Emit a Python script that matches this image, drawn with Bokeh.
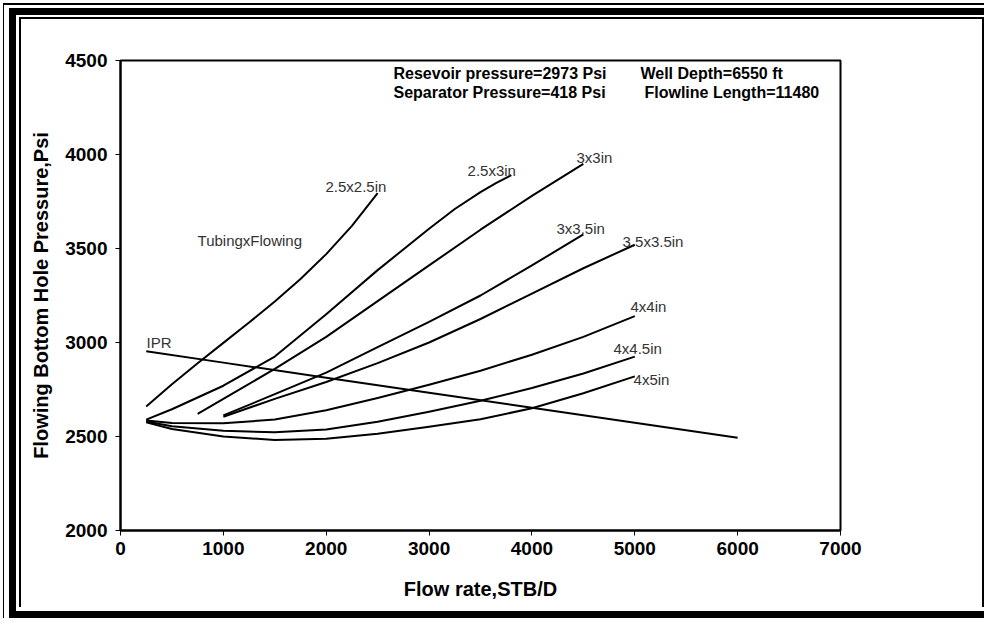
from bokeh.plotting import figure
from bokeh.models import Label, FixedTicker, Range1d
from bokeh.embed import file_html
from bokeh.resources import INLINE

# ---- data ----
ipr_q = [250, 1000, 2000, 3000, 4000, 5000, 6000]
ipr_p = [2953, 2893, 2813, 2733, 2653, 2573, 2493]

c25x25_q = [250, 500, 750, 1000, 1250, 1500, 1750, 2000, 2250, 2500]
c25x25_p = [2660, 2778, 2890, 2998, 3106, 3218, 3338, 3470, 3620, 3795]

c25x3_q = [250, 500, 1000, 1500, 2000, 2500, 3000, 3250, 3500, 3650, 3800]
c25x3_p = [2590, 2645, 2770, 2925, 3150, 3385, 3605, 3710, 3800, 3848, 3890]

c3x3_q = [750, 1000, 1500, 2000, 2500, 3000, 3500, 4000, 4500]
c3x3_p = [2620, 2700, 2860, 3030, 3220, 3410, 3600, 3780, 3950]

c3x35_q = [1000, 1500, 2000, 2500, 3000, 3500, 4000, 4500]
c3x35_p = [2612, 2725, 2840, 2975, 3110, 3250, 3410, 3575]

c35x35_q = [1000, 1500, 2000, 2500, 3000, 3500, 4000, 4500, 5000]
c35x35_p = [2605, 2700, 2790, 2890, 3000, 3125, 3260, 3395, 3520]

c4x4_q = [250, 500, 1000, 1500, 2000, 2500, 3000, 3500, 4000, 4500, 5000]
c4x4_p = [2585, 2572, 2570, 2590, 2640, 2705, 2775, 2850, 2935, 3030, 3140]

c4x45_q = [250, 500, 1000, 1500, 2000, 2500, 3000, 3500, 4000, 4500, 5000]
c4x45_p = [2580, 2555, 2530, 2522, 2537, 2578, 2632, 2690, 2758, 2835, 2925]

c4x5_q = [250, 500, 1000, 1500, 2000, 2500, 3000, 3500, 4000, 4500, 5000]
c4x5_p = [2575, 2540, 2500, 2482, 2488, 2515, 2552, 2592, 2650, 2730, 2820]

curve_labels = ["2.5x2.5in", "2.5x3in", "3x3in", "3x3.5in", "3.5x3.5in", "4x4in", "4x4.5in", "4x5in"]
label_x = [1993, 3374, 4433, 4239, 4881, 4958, 4793, 4988]
label_y = [3830, 3915, 3984, 3606, 3537, 3191, 2968, 2803]

x_ticks = [0, 1000, 2000, 3000, 4000, 5000, 6000, 7000]
y_ticks = [2000, 2500, 3000, 3500, 4000, 4500]

header_left = ["Resevoir pressure=2973 Psi", "Separator Pressure=418 Psi"]
header_right = ["Well Depth=6550 ft", "Flowline Length=11480"]

x_title = "Flow rate,STB/D"
y_title = "Flowing Bottom Hole Pressure,Psi"

# ---- figure ----
W, H = 984, 618
FL, FT, FW, FH = 120, 60, 720, 470
p = figure(width=W, height=H, output_backend="svg", toolbar_location=None,
           x_range=Range1d(0, 7000), y_range=Range1d(2000, 4500),
           frame_width=FW, frame_height=FH,
           min_border_left=FL, min_border_right=W - FL - FW,
           min_border_top=FT, min_border_bottom=H - FT - FH)
p.background_fill_color = "white"
p.border_fill_color = None
p.outline_line_color = "black"
p.outline_line_width = 2
p.grid.visible = False

font = "Liberation Sans"
for ax in (p.xaxis[0], p.yaxis[0]):
    ax.axis_line_color = "black"
    ax.axis_line_width = 2
    ax.major_tick_line_color = "black"
    ax.major_tick_line_width = 1
    ax.major_tick_out = 5
    ax.major_tick_in = 0
    ax.minor_tick_line_color = None
    ax.major_label_text_font = font
    ax.major_label_text_font_style = "bold"
    ax.major_label_text_font_size = "19px"
    ax.major_label_text_color = "black"
    ax.axis_label_text_font = font
    ax.axis_label_text_font_style = "bold"
    ax.axis_label_text_color = "black"

p.yaxis.major_label_standoff = 8
p.xaxis.major_label_standoff = 6
p.xaxis.ticker = FixedTicker(ticks=x_ticks)
p.yaxis.ticker = FixedTicker(ticks=y_ticks)
p.xaxis.axis_label = x_title
p.xaxis.axis_label_text_font_size = "20px"
p.xaxis.axis_label_standoff = 20
p.yaxis.axis_label = y_title
p.yaxis.axis_label_text_font_size = "20px"
p.yaxis.axis_label_standoff = 10

curves = [(c25x25_q, c25x25_p), (c25x3_q, c25x3_p), (c3x3_q, c3x3_p), (c3x35_q, c3x35_p),
          (c35x35_q, c35x35_p), (c4x4_q, c4x4_p), (c4x45_q, c4x45_p), (c4x5_q, c4x5_p)]
for q, pr in curves:
    p.line(q, pr, line_color="black", line_width=2, line_join="round")
p.line(ipr_q, ipr_p, line_color="black", line_width=2)

for t, x, y in zip(curve_labels, label_x, label_y):
    p.add_layout(Label(x=x, y=y, text=t, text_font=font, text_font_size="15px",
                       text_color="#333333", text_baseline="middle", text_align="left"))
p.add_layout(Label(x=749, y=3543, text="TubingxFlowing", text_font=font, text_font_size="15px",
                   text_color="#333333", text_baseline="middle"))
p.add_layout(Label(x=253, y=3000, text="IPR", text_font=font, text_font_size="15px",
                   text_color="#333333", text_baseline="middle"))

for t, y in zip(header_left, [4431, 4330]):
    p.add_layout(Label(x=2654, y=y, text=t, text_font=font, text_font_size="16px",
                       text_font_style="bold", text_color="black", text_baseline="middle"))
for t, x, y in zip(header_right, [5055, 5094], [4431, 4330]):
    p.add_layout(Label(x=x, y=y, text=t, text_font=font, text_font_size="16px",
                       text_font_style="bold", text_color="black", text_baseline="middle"))

# ---- decorative page frame drawn as inset box-shadows on the figure element ----
S = 3000

def ring(color, L=None, T=None, R=None, B=None):
    out = []
    if L is not None or T is not None:
        dx = (L + S) if L is not None else 0
        dy = (T + S) if T is not None else 0
        out.append(f"inset {dx}px {dy}px 0 {-S}px {color}")
    if R is not None or B is not None:
        dx = (R - W - S) if R is not None else 0
        dy = (B - H - S) if B is not None else 0
        out.append(f"inset {dx}px {dy}px 0 {-S}px {color}")
    return out

shadows = []
shadows += ring("white", L=3, T=3)               # gap outside thin outer line
shadows += ring("black", L=4, T=5)               # thin outer line
shadows += ring("white", L=9, T=8)               # gap
shadows += ring("black", L=16, T=15, B=611)      # thick band
shadows += ring("white", L=19, T=17, B=607)      # gap
shadows += ring("black", L=21, T=19, R=982, B=609)  # thin inner line
p.styles = {"box-shadow": ", ".join(shadows), "background-color": "white"}

open("out.html", "w").write(file_html(p, INLINE))
